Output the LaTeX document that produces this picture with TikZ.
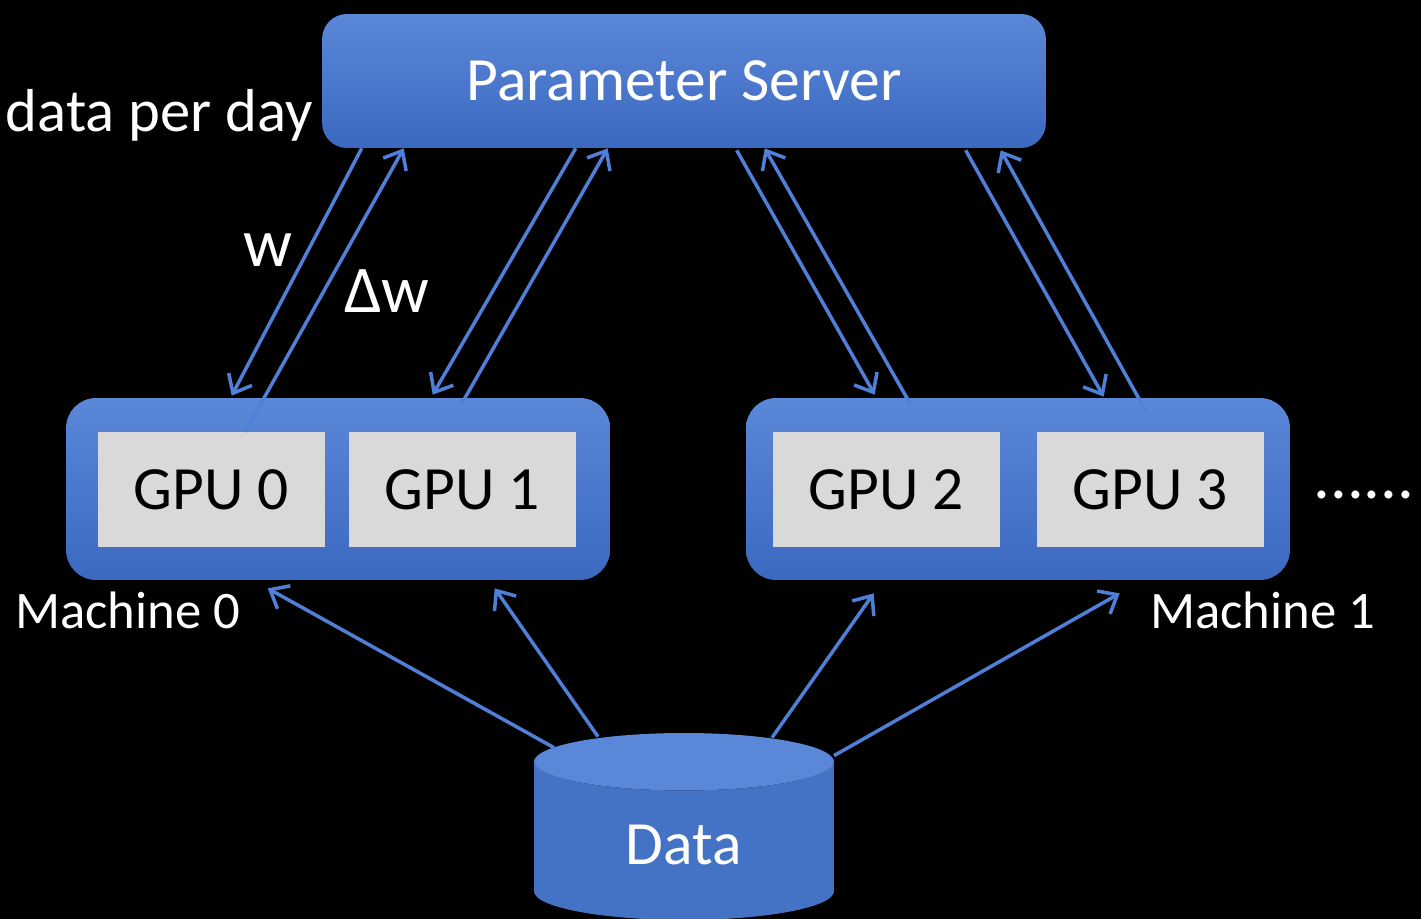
\documentclass[tikz,border=0pt]{standalone}
\usepackage{fontspec}
\setmainfont{Carlito}
\usetikzlibrary{graphs}
\usetikzlibrary{calc}
\usetikzlibrary{arrows.meta}
\usetikzlibrary{shapes.geometric}
\definecolor{boxblue}{HTML}{4472C4}
\definecolor{boxtop}{HTML}{5B87D8}
\definecolor{boxbot}{HTML}{3B69C0}
\definecolor{linkblue}{HTML}{4F7FD6}
\definecolor{gpugray}{HTML}{D9D9D9}
\tikzset{
  server/.style= {rounded corners=0.5cm, top color=boxtop, bottom color=boxbot, text=white,
    minimum width=14.48cm, minimum height=2.68cm, font=\fontsize{35pt}{42pt}\selectfont},
  machine/.style= {rounded corners=0.6cm, top color=boxtop, bottom color=boxbot,
    minimum width=10.88cm, minimum height=3.64cm},
  gpu/.style= {fill=gpugray, minimum width=4.56cm, minimum height=2.3cm,
    font=\fontsize{35pt}{42pt}\selectfont},
  store/.style= {cylinder, shape border rotate=90, aspect=0.45, cylinder uses custom fill,
    cylinder body fill=boxblue, cylinder end fill=boxtop, minimum width=6cm,
    minimum height=3.74cm, text=white, font=\fontsize{35pt}{42pt}\selectfont},
  note/.style= {text=white, inner sep=0, font=\fontsize{34.5pt}{42pt}\selectfont},
  small/.style= {text=white, inner sep=0, font=\fontsize{30pt}{36pt}\selectfont},
  link/.style= {draw=linkblue, line width=2pt, >={Straight Barb[length=9pt,width=15pt]}},
}

\begin{document}
\begin{tikzpicture}[x=0.02cm, y=-0.02cm]
  \useasboundingbox (0,0) rectangle (1421,919);
  \fill [black] (0,0) rectangle (1421,919);

  \node [server] (ps) at (684,81) {Parameter Server} ;
  \node [machine] (m0) at (338,489) {} ;
  \node [machine] (m1) at (1018,489) {} ;
  \node [gpu] (g0) at (211.5,489.5) {GPU 0} ;
  \node [gpu] (g1) at (462.5,489.5) {GPU 1} ;
  \node [gpu] (g2) at (886.5,489.5) {GPU 2} ;
  \node [gpu] (g3) at (1150.5,489.5) {GPU 3} ;
  \node [store] (data) at (684,845) {Data} ;

  \node [note, anchor=base east] (perday) at (313,132) {data per day} ;
  \node [note, font=\fontsize{39pt}{44pt}\selectfont] (wlab) at (268,250) {w} ;
  \node [note, font=\fontsize{38pt}{44pt}\selectfont] (dwlab) at (387,291) {Δw} ;
  \node [small, anchor=base west] (name0) at (15,628) {Machine 0} ;
  \node [small, anchor=base west] (name1) at (1150,628) {Machine 1} ;
  \node [note, anchor=base west, font=\fontsize{38pt}{44pt}\selectfont] (more) at (1313,498) {......} ;

  % ends on the server and the machines
  \coordinate (w0top) at ($(ps.south west)+(40,0)$) ;
  \coordinate (w0bot) at ($(m0.north west)+(166,-2)$) ;
  \coordinate (dw0bot) at ($(g0.north west)+(148,0)$) ;
  \coordinate (dw0top) at ($(ps.south west)+(82,0)$) ;
  \coordinate (w1top) at ($(ps.south west)+(254,0)$) ;
  \coordinate (w1bot) at ($(m0.north west)+(367,-3)$) ;
  \coordinate (dw1bot) at ($(m0.north west)+(396,6)$) ;
  \coordinate (dw1top) at ($(ps.south west)+(286,0)$) ;
  \coordinate (w2top) at ($(ps.south west)+(415,2)$) ;
  \coordinate (w2bot) at ($(m1.north west)+(129,-3)$) ;
  \coordinate (dw2bot) at ($(m1.north west)+(165,7)$) ;
  \coordinate (dw2top) at ($(ps.south west)+(443,0)$) ;
  \coordinate (w3top) at ($(ps.south west)+(644,2)$) ;
  \coordinate (w3bot) at ($(m1.north west)+(358,-1)$) ;
  \coordinate (dw3bot) at ($(m1.north west)+(401,15)$) ;
  \coordinate (dw3top) at ($(ps.south west)+(679,2)$) ;

  % ends on the data store
  \coordinate (d0) at ($(data.north)+(-130,15)$) ;
  \coordinate (d1) at ($(data.north)+(-86,4)$) ;
  \coordinate (d2) at ($(data.north)+(88,5)$) ;
  \coordinate (d3) at ($(data.north)+(150,23)$) ;
  \coordinate (e0) at ($(m0.south west)+(202,8)$) ;
  \coordinate (e1) at ($(m0.south west)+(429,8)$) ;
  \coordinate (e2) at ($(m1.south west)+(128,13)$) ;
  \coordinate (e3) at ($(m1.south west)+(374,13)$) ;

  \graph [edges=link] {
    (w0top) -> (w0bot) ; (dw0bot) -> (dw0top) ;
    (w1top) -> (w1bot) ; (dw1bot) -> (dw1top) ;
    (w2top) -> (w2bot) ; (dw2bot) -> (dw2top) ;
    (w3top) -> (w3bot) ; (dw3bot) -> (dw3top) ;
    (d0) -> (e0) ; (d1) -> (e1) ; (d2) -> (e2) ; (d3) -> (e3) ;
  } ;
\end{tikzpicture}
\end{document}
